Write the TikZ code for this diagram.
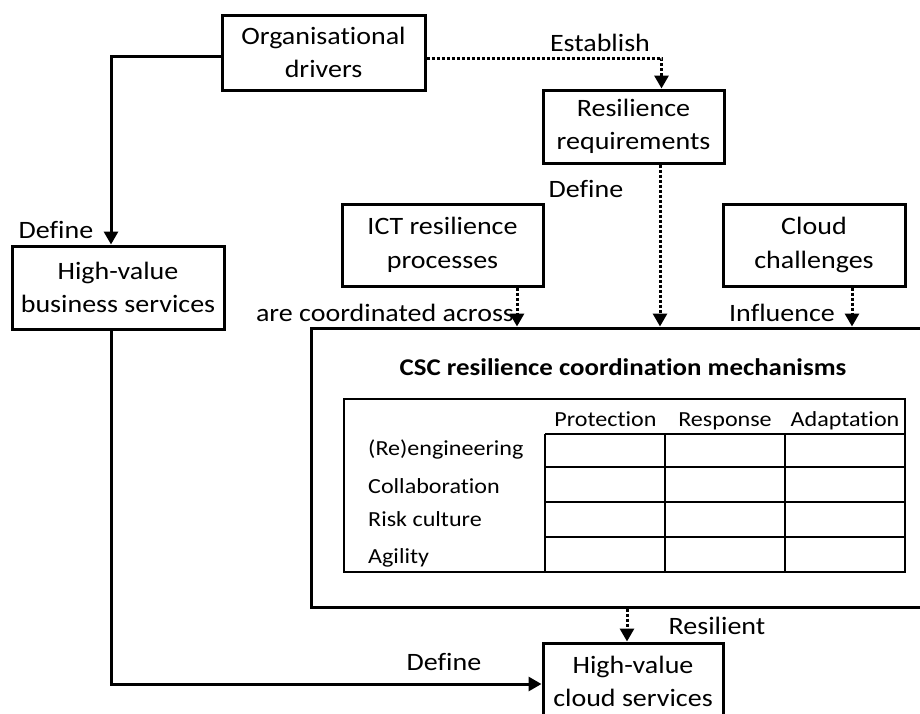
\documentclass[tikz,border=0pt]{standalone}
\usepackage{fontspec}
\setmainfont[FakeStretch=1.12,Ligatures=NoCommon]{Carlito}
\usetikzlibrary{arrows.meta,calc}
\begin{document}
\begin{tikzpicture}[x=1pt,y=-1pt,
  box/.style={draw,line width=3pt,rectangle,align=center,inner sep=0pt,font=\fontsize{25}{33.5}\selectfont},
  lbl/.style={inner sep=0pt,anchor=base,font=\fontsize{25}{30}\selectfont},
  tlbl/.style={inner sep=0pt,anchor=base,font=\fontsize{21.5}{26}\selectfont},
  rlbl/.style={tlbl,anchor=base west},
  link/.style={line width=3pt,-{Triangle[width=14pt,length=13pt]}},
  dlink/.style={link,dash pattern=on 3pt off 2pt},
  grid/.style={line width=1.5pt}
]
\useasboundingbox (0,0) rectangle (920,713);
\begin{scope}
\clip (0,0) rectangle (920,713);

% boxes
\node[box,minimum width=203pt,minimum height=75pt] (org) at (323.5,52.5) {Organisational\\drivers};
\node[box,minimum width=212pt,minimum height=83pt] (hvb) at (118,287.5) {High-value\\business services};
\node[box,minimum width=181pt,minimum height=73pt] (req) at (633.5,126.5) {Resilience\\requirements};
\node[box,minimum width=201pt,minimum height=82pt] (ict) at (442.5,245) {ICT resilience\\processes};
\node[box,minimum width=182pt,minimum height=82pt] (cld) at (814,245) {Cloud\\challenges};
\node[box,minimum width=629pt,minimum height=279pt] (csc) at (625.5,467.5) {};
\node[box,minimum width=180pt,minimum height=77pt] (hvc) at (633,681.5) {High-value\\cloud services};

% mechanism table inside the coordination box
\node[font=\bfseries\fontsize{24}{28}\selectfont,inner sep=0pt] (title) at (623,367) {CSC resilience coordination mechanisms};
\draw[grid] (344,399) rectangle (905,572);
\foreach \y in {434,467,502,537} \draw[grid] (545,\y) -- (905,\y);
\foreach \x in {545,665,785} \draw[grid] (\x,434) -- (\x,572);
\node[tlbl] (cp) at (605.5,426.5) {Protection};
\node[tlbl] (cr) at (725,426.5) {Response};
\node[tlbl] (ca) at (845,426.5) {Adaptation};
\node[rlbl] (r1) at (368,455) {(Re)engineering};
\node[rlbl] (r2) at (368,493) {Collaboration};
\node[rlbl] (r3) at (368,526) {Risk culture};
\node[rlbl] (r4) at (368,563) {Agility};

% connectors
\coordinate (pOrgW) at ([yshift=-3.5pt]org.west);
\coordinate (pOrgE) at ([yshift=-5.5pt]org.east);
\coordinate (pHvbN) at ([xshift=-7pt]hvb.north);
\coordinate (pHvbS) at ([xshift=-7pt]hvb.south);
\coordinate (pReqN) at ([xshift=28pt]req.north);
\coordinate (pReqS) at ([xshift=26.5pt]req.south);
\coordinate (pIctS) at ([xshift=74.5pt]ict.south);
\coordinate (pCldS) at ([xshift=38pt]cld.south);
\coordinate (pCscS) at ([xshift=-6pt]hvc.north |- csc.south);
\coordinate (pHvcW) at ([yshift=-2.5pt]hvc.west);

\draw[link] (pOrgW) -| (pHvbN);
\draw[dlink] (pOrgE) -| (pReqN);
\draw[dlink] (pReqS) -- (pReqS |- csc.north);
\draw[dlink] (pIctS) -- (pIctS |- csc.north);
\draw[dlink] (pCldS) -- (pCldS |- csc.north);
\draw[dlink] (pCscS) -- (pCscS |- hvc.north);
\draw[link] (pHvbS) |- (pHvcW);

% connector labels
\node[lbl] (l1) at (56,238) {Define};
\node[lbl] (l2) at (600,51) {Establish};
\node[lbl] (l3) at (586,197) {Define};
\node[lbl] (l4) at (385,321) {are coordinated across};
\node[lbl] (l5) at (782,321) {Influence};
\node[lbl] (l6) at (717,634) {Resilient};
\node[lbl] (l7) at (444,670) {Define};
\end{scope}
\end{tikzpicture}
\end{document}
